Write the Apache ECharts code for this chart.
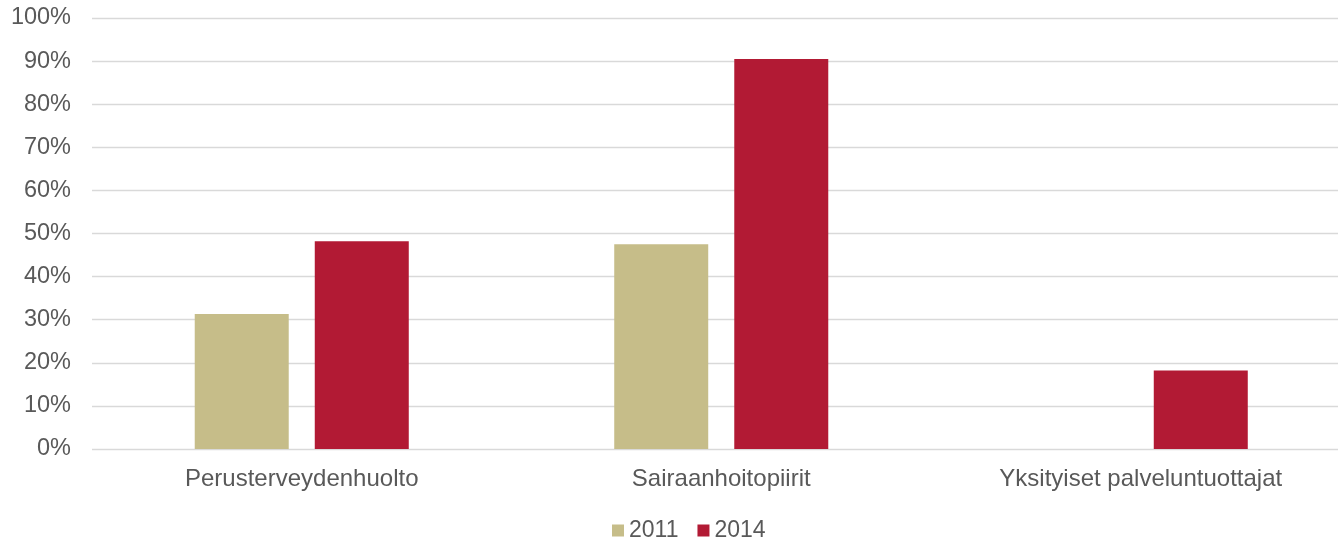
<!DOCTYPE html>
<html>
<head>
<meta charset="utf-8">
<script src="https://cdn.jsdelivr.net/npm/echarts@6/dist/echarts.min.js"></script>
<style>
html, body { margin: 0; padding: 0; background: #fff; }
#chart { width: 1338px; height: 538px; }
</style>
</head>
<body>
<div id="chart"></div>
<script>
// categories and series
var categories = ['Perusterveydenhuolto', 'Sairaanhoitopiirit', 'Yksityiset palveluntuottajat'];
var values2011 = [31.3, 47.5, null];
var values2014 = [48.2, 90.5, 18.2];
var seriesNames = ['2011', '2014'];

var textColor = '#595959';
var font = "'Liberation Sans', Arial, sans-serif";
var chart = echarts.init(document.getElementById('chart'));

var option = {
    animation: false,
    textStyle: { fontFamily: font },
    legend: {
        data: seriesNames,
        left: 607,
        top: 514,
        itemWidth: 12,
        itemHeight: 12,
        itemGap: 19,
        icon: 'rect',
        textStyle: { color: textColor, fontSize: 23, fontFamily: font }
    },
    grid: {
        left: 92,
        top: 18,
        width: 1258.5,
        height: 431,
        outerBoundsMode: 'none'
    },
    xAxis: {
        type: 'category',
        data: categories,
        axisLine: { show: false },
        axisTick: { show: false },
        axisLabel: {
            color: textColor,
            fontSize: 24,
            margin: 18,
            fontFamily: font
        }
    },
    yAxis: {
        type: 'value',
        min: 0,
        max: 100,
        interval: 10,
        axisLine: { show: false },
        axisTick: { show: false },
        axisLabel: {
            color: textColor,
            fontSize: 23.5,
            margin: 21,
            formatter: '{value}%',
            fontFamily: font
        },
        splitLine: { lineStyle: { color: '#D9D9D9', width: 1.3 } }
    },
    series: [
        {
            name: seriesNames[0],
            type: 'bar',
            data: values2011,
            barWidth: 94,
            barGap: '27.7%',
            itemStyle: { color: '#C6BD89' }
        },
        {
            name: seriesNames[1],
            type: 'bar',
            data: values2014,
            barWidth: 94,
            barGap: '27.7%',
            itemStyle: { color: '#B21A34' }
        }
    ]
};
chart.setOption(option);
</script>
</body>
</html>
